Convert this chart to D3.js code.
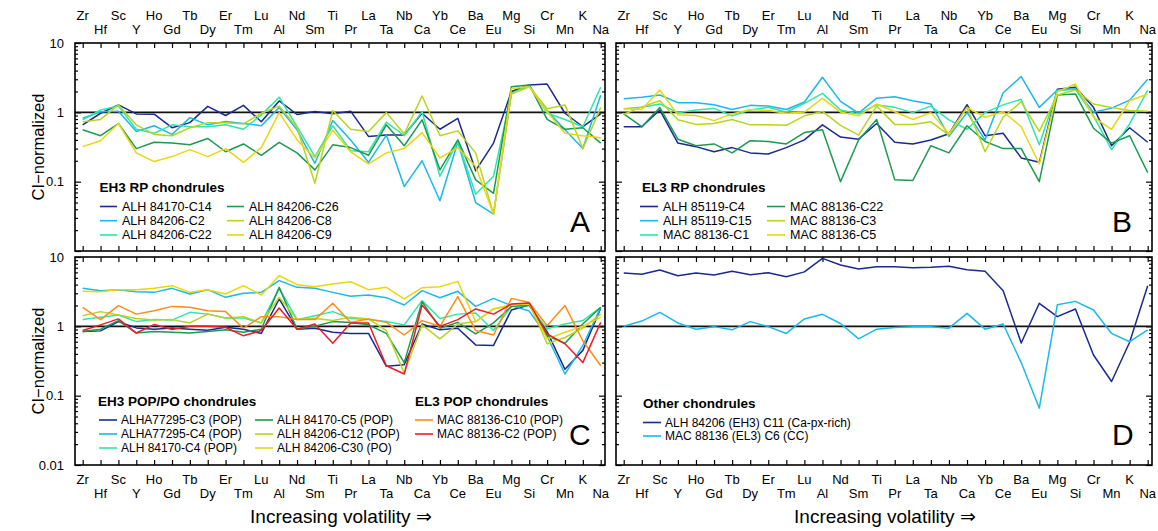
<!DOCTYPE html>
<html><head><meta charset="utf-8">
<script src="https://cdn.jsdelivr.net/npm/d3@7"></script>
<style>
body{margin:0;background:#fff}
text{font-family:"Liberation Sans",Arial,Helvetica,sans-serif;fill:#000}
</style>
</head><body>
<svg id="chart" width="1158" height="531"></svg>
<script>
// ---------- DATA ----------
const elements = ["Zr","Hf","Sc","Y","Ho","Gd","Tb","Dy","Er","Tm","Lu","Al","Nd","Sm","Ti","Pr","La","Ta","Nb","Ca","Yb","Ce","Ba","Eu","Mg","Si","Cr","Mn","K","Na"];
const yMajorTicks = [10,1,0.1,0.01];
const yTickLabels = ["10","1","0.1","0.01"];

// Panel A: EH3 RP chondrules
const namesA = ["ALH 84170-C14","ALH 84206-C2","ALH 84206-C22","ALH 84206-C26","ALH 84206-C8","ALH 84206-C9"];
const valuesA = [
 [0.66,0.97,1.28,0.95,0.94,0.6,0.71,1.22,0.9,1.26,0.73,1.46,0.93,1.03,0.95,1.04,0.45,0.47,0.47,0.97,0.57,0.82,0.144,0.36,2.0,2.48,2.56,0.97,0.62,0.95],
 [0.82,1.02,1.04,0.53,0.64,0.48,0.84,0.66,0.74,0.69,0.64,1.17,0.56,0.184,0.76,0.4,0.19,0.47,0.085,0.2,0.053,0.37,0.05,0.034,1.88,2.4,1.05,0.56,0.30,1.76],
 [0.78,1.08,1.23,0.57,0.5,0.66,0.62,0.62,0.66,0.57,0.92,1.65,0.62,0.23,0.64,0.28,0.27,0.72,0.46,1.02,0.12,0.38,0.066,0.12,1.88,2.48,0.97,0.79,0.62,2.3],
 [0.56,0.46,0.69,0.3,0.37,0.36,0.34,0.42,0.27,0.35,0.24,0.37,0.26,0.148,0.34,0.31,0.24,0.66,0.33,0.78,0.148,0.4,0.106,0.068,2.34,2.48,0.79,0.57,0.6,0.36],
 [0.73,0.79,1.28,0.66,0.48,0.46,0.6,0.71,0.71,0.68,0.97,1.23,0.6,0.095,1.06,0.57,0.53,0.99,0.49,1.72,0.46,0.54,0.26,0.034,1.84,2.34,1.13,1.28,0.3,1.18],
 [0.32,0.39,0.69,0.26,0.195,0.23,0.29,0.23,0.3,0.19,0.31,0.99,0.4,0.22,0.55,0.27,0.18,0.26,0.3,0.51,0.22,0.31,0.165,0.034,2.2,2.34,1.02,0.5,0.46,0.43]
];
// Panel B: EL3 RP chondrules
const namesB = ["ALH 85119-C4","ALH 85119-C15","MAC 88136-C1","MAC 88136-C22","MAC 88136-C3","MAC 88136-C5"];
const valuesB = [
 [0.62,0.62,1.08,0.36,0.32,0.27,0.31,0.26,0.25,0.31,0.4,0.66,0.44,0.41,0.69,0.37,0.35,0.4,0.49,1.29,0.46,0.5,0.22,0.19,2.15,2.3,1.18,0.33,0.6,0.37],
 [1.57,1.65,1.78,1.38,1.38,1.29,1.1,1.26,1.23,1.1,1.41,3.2,1.44,0.97,1.6,1.68,1.47,1.32,0.45,0.99,0.4,1.92,3.27,1.18,2.1,2.2,1.0,1.15,1.5,3.0],
 [1.13,1.18,1.32,0.99,1.08,1.14,0.89,1.08,1.18,1.01,1.35,1.88,1.08,0.95,1.28,1.18,0.99,1.23,0.78,0.57,0.99,1.28,1.54,0.34,2.05,2.15,0.89,0.29,0.68,2.1],
 [0.95,0.62,1.17,0.41,0.33,0.35,0.26,0.39,0.38,0.35,0.51,0.56,0.1,0.4,0.79,0.107,0.104,0.33,0.26,0.64,0.38,0.3,0.3,0.1,1.78,1.84,0.59,0.36,0.46,0.135],
 [0.94,1.2,1.47,0.78,0.67,0.69,0.79,0.66,0.66,0.65,0.89,1.03,0.65,0.47,1.23,0.67,0.67,0.73,0.47,1.18,0.27,0.85,1.42,0.53,1.78,2.1,1.32,1.17,1.06,1.04],
 [1.13,1.1,2.1,0.92,0.9,0.76,0.95,1.1,1.06,0.97,1.01,1.59,1.01,0.89,1.32,1.02,0.79,0.99,0.49,1.18,0.85,1.02,0.62,0.18,1.99,2.56,0.85,0.57,1.47,1.84]
];
// Panel C: EH3 POP/PO and EL3 POP chondrules
const namesC = ["ALHA77295-C3 (POP)","ALHA77295-C4 (POP)","ALH 84170-C4 (POP)","ALH 84170-C5 (POP)","ALH 84206-C12 (POP)","ALH 84206-C30 (PO)","MAC 88136-C10 (POP)","MAC 88136-C2 (POP)"];
const valuesC = [
 [0.84,0.86,1.17,0.95,0.91,0.95,0.91,0.88,0.97,0.91,0.79,2.48,0.91,0.94,0.82,0.79,0.79,0.265,0.28,1.08,0.89,0.94,0.54,0.53,1.72,2.03,0.84,0.24,0.45,1.82],
 [3.53,3.27,3.38,3.16,3.09,3.53,2.93,3.38,2.62,2.99,3.09,4.56,3.65,3.53,3.09,2.71,2.83,2.59,2.03,3.27,2.59,3.2,1.94,2.53,1.99,1.66,0.72,0.205,0.53,1.88],
 [1.25,1.35,1.46,1.17,1.25,1.23,1.59,1.5,1.32,1.32,1.12,3.53,1.25,1.42,1.63,1.3,1.25,1.17,1.05,2.35,1.3,1.5,1.56,0.87,1.94,1.99,0.92,1.08,1.21,1.88],
 [0.84,0.91,1.21,0.8,0.84,0.82,0.8,0.84,0.89,0.82,0.91,3.65,0.91,1.0,1.17,1.14,1.05,0.79,0.3,2.27,0.94,1.14,0.78,1.12,1.94,2.03,0.73,0.57,1.08,1.88],
 [1.42,1.63,1.46,1.3,1.23,1.25,1.12,1.5,1.32,1.38,1.12,2.62,1.25,1.3,1.21,1.35,1.28,0.87,0.21,1.05,0.66,1.08,1.17,1.78,2.03,2.15,0.56,0.69,0.94,1.5],
 [3.2,3.16,3.38,3.38,3.53,3.86,3.09,3.38,2.93,3.86,2.83,5.37,3.99,3.73,4.08,4.4,3.38,3.65,2.48,3.61,3.73,4.45,1.17,1.78,2.03,2.1,0.66,0.82,1.0,1.35],
 [1.88,1.25,1.99,1.5,1.68,1.94,1.88,1.68,1.63,0.94,1.38,1.38,1.25,1.25,2.15,1.14,1.28,1.14,0.75,1.21,1.0,2.68,0.87,0.75,2.53,2.2,1.02,1.99,0.62,0.27],
 [0.87,1.05,1.28,0.8,1.06,0.9,1.0,1.0,0.97,0.73,0.87,1.84,0.91,1.08,0.57,1.12,1.12,0.27,0.205,2.03,1.0,1.25,1.78,1.5,2.1,2.17,0.78,0.56,0.3,1.14]
];
// Panel D: Other chondrules
const namesD = ["ALH 84206 (EH3) C11 (Ca-px-rich)","MAC 88136 (EL3) C6 (CC)"];
const valuesD = [
 [5.88,5.63,6.48,5.37,5.88,5.5,6.21,5.56,5.94,5.2,6.1,9.55,7.67,6.7,7.25,7.25,7.0,7.1,7.35,6.57,6.21,3.27,0.575,2.15,1.38,1.78,0.386,0.16,0.59,3.86],
 [1.0,1.19,1.59,1.12,0.91,0.99,0.89,1.17,0.99,0.79,1.28,1.49,1.1,0.66,0.91,0.96,0.99,0.99,0.94,1.54,0.91,1.08,0.3,0.066,2.05,2.29,1.72,0.79,0.6,0.89]
];

// ---------- STYLE ----------
const NAVY="#1b2a8f", SKY="#1ab8ec", TURQ="#2ee6a8", GREEN="#1c9a50", YGREEN="#b8d41c", YELLOW="#e9d60f", ORANGE="#ff8c14", RED="#ee1c24";
const colorsA=[NAVY,SKY,TURQ,GREEN,YGREEN,YELLOW];
const colorsB=[NAVY,SKY,TURQ,GREEN,YGREEN,YELLOW];
const colorsC=[NAVY,SKY,TURQ,GREEN,YGREEN,YELLOW,ORANGE,RED];
const colorsD=[NAVY,SKY];

const svg = d3.select("#chart");

const panels = [
 {letter:"A", x0:75, x1:605, y0:43, y1:251, names:namesA, values:valuesA, colors:colorsA, left:true, bottom:false, top:true,
  letterPos:[570,232], fs:12.5,
  titles:[{t:"EH3 RP chondrules",x:99.5,y:191.5}],
  legend:[{i:0,x:100,y:206.5},{i:1,x:100,y:220.7},{i:2,x:100,y:235},{i:3,x:227,y:206.5},{i:4,x:227,y:220.7},{i:5,x:227,y:235}], lineLen:17, gap:5},
 {letter:"B", x0:616, x1:1152, y0:43, y1:251, names:namesB, values:valuesB, colors:colorsB, left:false, bottom:false, top:true,
  letterPos:[1112,232], fs:12.5,
  titles:[{t:"EL3 RP chondrules",x:642,y:191.5}],
  legend:[{i:0,x:640,y:206.5},{i:1,x:640,y:220.7},{i:2,x:640,y:235},{i:3,x:767,y:206.5},{i:4,x:767,y:220.7},{i:5,x:767,y:235}], lineLen:18, gap:5},
 {letter:"C", x0:75, x1:605, y0:257, y1:465, names:namesC, values:valuesC, colors:colorsC, left:true, bottom:true, top:false,
  letterPos:[569,445], fs:12,
  titles:[{t:"EH3 POP/PO chondrules",x:98,y:406},{t:"EL3 POP chondrules",x:415,y:406}],
  legend:[{i:0,x:99,y:420},{i:1,x:99,y:434},{i:2,x:99,y:448},{i:3,x:255,y:420},{i:4,x:255,y:434},{i:5,x:255,y:448},{i:6,x:415,y:420},{i:7,x:415,y:434}], lineLen:18, gap:4},
 {letter:"D", x0:616, x1:1152, y0:257, y1:465, names:namesD, values:valuesD, colors:colorsD, left:false, bottom:true, top:false,
  letterPos:[1112,445], fs:12,
  titles:[{t:"Other chondrules",x:643,y:408}],
  legend:[{i:0,x:643,y:422.5},{i:1,x:643,y:436}], lineLen:18, gap:4}
];

const minorTicks = [];
[0.01,0.1,1].forEach(d=>{for(let k=2;k<=9;k++) minorTicks.push(d*k);});

panels.forEach(p=>{
  const x = d3.scalePoint().domain(elements).range([p.x0+7.7, p.x1-4.3]);
  const y = d3.scaleLog().domain([0.01,10]).range([p.y1, p.y0]);
  const g = svg.append("g");

  const xt = g.append("g").attr("transform",`translate(0,${p.y0})`)
    .call(d3.axisBottom(x).tickSize(5).tickFormat(""));
  const xb = g.append("g").attr("transform",`translate(0,${p.y1})`)
    .call(d3.axisTop(x).tickSize(5).tickFormat(""));
  const yl = g.append("g").attr("transform",`translate(${p.x0},0)`)
    .call(d3.axisLeft(y).tickValues(yMajorTicks).tickSize(-6).tickPadding(11)
      .tickFormat((d,i)=> p.left && (p.bottom || d!==0.01) ? yTickLabels[i] : ""));
  const ylm = g.append("g").attr("transform",`translate(${p.x0},0)`)
    .call(d3.axisLeft(y).tickValues(minorTicks).tickSize(-3).tickFormat(""));
  const yr = g.append("g").attr("transform",`translate(${p.x1},0)`)
    .call(d3.axisRight(y).tickValues(yMajorTicks).tickSize(-6).tickFormat(""));
  const yrm = g.append("g").attr("transform",`translate(${p.x1},0)`)
    .call(d3.axisRight(y).tickValues(minorTicks).tickSize(-3).tickFormat(""));
  [xt,xb,yl,ylm,yr,yrm].forEach(a=>{
    a.select(".domain").remove();
    a.selectAll("line").attr("stroke","#000").attr("stroke-width",1.2);
    a.selectAll("text").attr("font-size",13).attr("font-family","Liberation Sans, Arial, sans-serif");
  });

  if(p.top){
    g.selectAll(".tl").data(elements).enter().append("text")
      .attr("x",d=>x(d)).attr("y",(d,i)=> i%2===0 ? 19.5 : 34)
      .attr("text-anchor","middle").attr("font-size",13).text(d=>d);
  }
  if(p.bottom){
    g.selectAll(".bl").data(elements).enter().append("text")
      .attr("x",d=>x(d)).attr("y",(d,i)=> i%2===0 ? 483.5 : 498)
      .attr("text-anchor","middle").attr("font-size",13).text(d=>d);
    g.append("text").attr("x",(p.x0+p.x1)/2+1).attr("y",523).attr("text-anchor","middle")
      .attr("font-size",19).text("Increasing volatility \u21D2");
  }
  if(p.left){
    g.append("text").attr("transform",`translate(44,${(p.y0+p.y1)/2}) rotate(-90)`)
      .attr("text-anchor","middle").attr("font-size",16.5).text("CI\u2212normalized");
  }

  g.append("line").attr("x1",p.x0).attr("x2",p.x1).attr("y1",y(1)).attr("y2",y(1))
    .attr("stroke","#111").attr("stroke-width",1.7);

  const line = d3.line().x((v,i)=>x(elements[i])).y(v=>y(v));
  p.values.forEach((vals,k)=>{
    g.append("path").attr("d",line(vals)).attr("fill","none")
      .attr("stroke",p.colors[k]).attr("stroke-width",1.5).attr("stroke-linejoin","round");
  });

  g.append("rect").attr("x",p.x0).attr("y",p.y0).attr("width",p.x1-p.x0).attr("height",p.y1-p.y0)
    .attr("fill","none").attr("stroke","#000").attr("stroke-width",1.6);

  p.titles.forEach(t=>{
    g.append("text").attr("x",t.x).attr("y",t.y).attr("font-size",13.5).attr("font-weight","bold").text(t.t);
  });
  p.legend.forEach(l=>{
    g.append("line").attr("x1",l.x).attr("x2",l.x+p.lineLen).attr("y1",l.y).attr("y2",l.y)
      .attr("stroke",p.colors[l.i]).attr("stroke-width",1.6);
    g.append("text").attr("x",l.x+p.lineLen+p.gap).attr("y",l.y+4.3).attr("font-size",p.fs).text(p.names[l.i]);
  });

  g.append("text").attr("x",p.letterPos[0]).attr("y",p.letterPos[1]).attr("font-size",30).text(p.letter);
});
</script>
</body></html>
